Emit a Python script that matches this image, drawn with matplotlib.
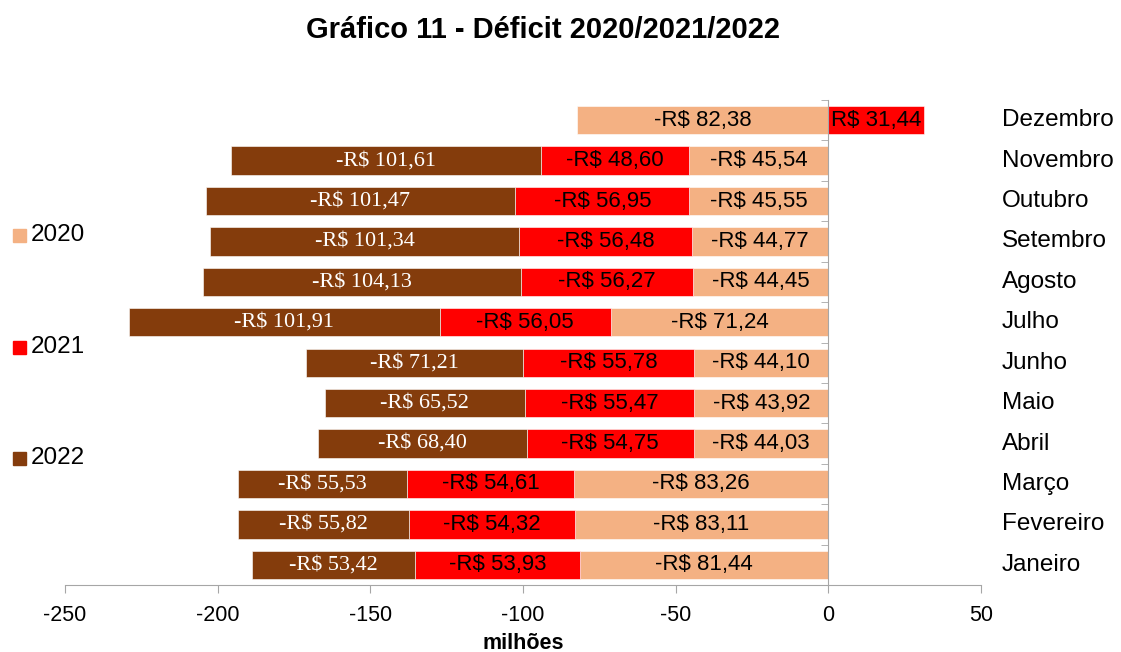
import numpy as np
import matplotlib
matplotlib.use("Agg")
import matplotlib.pyplot as plt
from matplotlib.patches import Rectangle
from matplotlib.ticker import FixedLocator

months = ["Janeiro", "Fevereiro", "Março", "Abril", "Maio", "Junho",
          "Julho", "Agosto", "Setembro", "Outubro", "Novembro", "Dezembro"]
v2020 = [-81.44, -83.11, -83.26, -44.03, -43.92, -44.10, -71.24, -44.45, -44.77, -45.55, -45.54, -82.38]
v2021 = [-53.93, -54.32, -54.61, -54.75, -55.47, -55.78, -56.05, -56.27, -56.48, -56.95, -48.60, 31.44]
v2022 = [-53.42, -55.82, -55.53, -68.40, -65.52, -71.21, -101.91, -104.13, -101.34, -101.47, -101.61, np.nan]
series_names = ["2020", "2021", "2022"]
colors = ["#F4B183", "#FF0000", "#843C0C"]
xticks = [-250, -200, -150, -100, -50, 0, 50]

SANS = ["Liberation Sans", "DejaVu Sans"]
SERIF = ["Liberation Serif", "DejaVu Serif"]
plt.rcParams['font.family'] = SANS

fig = plt.figure(figsize=(11.21, 6.52), dpi=100)
ax = fig.add_axes([65/1121, 1-585/652, 916/1121, 485/652])

y = np.arange(len(months))
pos_cum = np.zeros(len(months))
neg_cum = np.zeros(len(months))
for vals, col, name in zip([v2020, v2021, v2022], colors, series_names):
    vals = np.array(vals, dtype=float)
    for i, v in enumerate(vals):
        if np.isnan(v):
            continue
        if v >= 0:
            left = pos_cum[i]; pos_cum[i] += v
        else:
            left = neg_cum[i]; neg_cum[i] += v
        ax.barh(y[i], v, left=left, height=0.7, color=col, edgecolor="white",
                linewidth=0.4, zorder=1)
        txt = ("-R$ " if v < 0 else "R$ ") + f"{abs(v):.2f}".replace(".", ",")
        cx = left + v / 2
        if name == "2022":
            ax.text(cx, y[i], txt, ha="center", va="center", color="white",
                    fontsize=16, family=SERIF, zorder=3)
        else:
            ax.text(cx, y[i], txt, ha="center", va="center", color="black",
                    fontsize=16, family=SANS, zorder=3)

ax.set_xlim(-250, 50)
ax.set_ylim(-0.5, len(months) - 0.5)

for s in ["top", "right"]:
    ax.spines[s].set_visible(False)
ax.spines["left"].set_position(("data", 0))
ax.spines["left"].set_color("#A6A6A6")
ax.spines["bottom"].set_color("#A6A6A6")
ax.spines["left"].set_zorder(2.5)

ax.set_xticks(xticks)
ax.set_xticklabels([str(t) for t in xticks])
ax.tick_params(axis="x", direction="out", length=6, color="#A6A6A6",
               labelsize=15.5, pad=8.5)
ax.set_yticks([])
ax.yaxis.set_minor_locator(FixedLocator(np.arange(-0.5, len(months), 1.0)))
ax.tick_params(axis="y", which="minor", direction="out", length=5,
               color="#A6A6A6", labelleft=False)

for i, m in enumerate(months):
    ax.text(1.023, y[i], m, transform=ax.get_yaxis_transform(),
            ha="left", va="center", fontsize=17.5)

ax.set_xlabel("milhões", fontsize=15.5, fontweight="bold", labelpad=5)

fig.text(0.484, 1 - 30/652, "Gráfico 11 - Déficit 2020/2021/2022",
         ha="center", va="center", fontsize=21, fontweight="bold")

# legend
leg_y = [235, 347, 458]
for name, col, ly in zip(series_names, colors, leg_y):
    fig.add_artist(Rectangle((13/1121, 1 - (ly + 6.5)/652), 13/1121, 13/652,
                             transform=fig.transFigure, color=col))
    fig.text(31/1121, 1 - ly/652, name, ha="left", va="center", fontsize=17.5)

fig.savefig("out.png", dpi=100)
